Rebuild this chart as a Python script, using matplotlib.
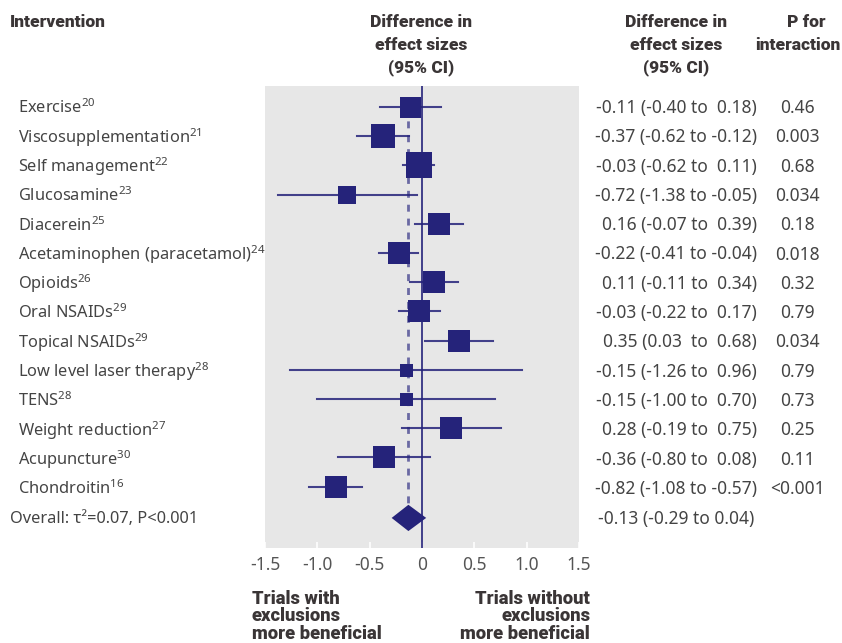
import matplotlib
matplotlib.use("Agg")
import matplotlib.pyplot as plt
import numpy as np

# Data
labels = ["Exercise", "Viscosupplementation", "Self management", "Glucosamine",
          "Diacerein", "Acetaminophen (paracetamol)", "Opioids", "Oral NSAIDs",
          "Topical NSAIDs", "Low level laser therapy", "TENS", "Weight reduction",
          "Acupuncture", "Chondroitin"]
refs = ["20", "21", "22", "23", "25", "24", "26", "29", "29", "28", "28", "27", "30", "16"]
est = [-0.11, -0.37, -0.03, -0.72, 0.16, -0.22, 0.11, -0.03, 0.35, -0.15, -0.15, 0.28, -0.36, -0.82]
lo = [-0.40, -0.62, -0.18, -1.38, -0.07, -0.41, -0.11, -0.22, 0.03, -1.26, -1.00, -0.19, -0.80, -1.08]
hi = [0.18, -0.12, 0.11, -0.05, 0.39, -0.04, 0.34, 0.17, 0.68, 0.96, 0.70, 0.75, 0.08, -0.57]
weight = [21, 24, 26, 18, 23, 22, 23, 23, 23, 13, 13, 22, 23, 23]  # box side
ci_text = ["-0.11 (-0.40 to  0.18)", "-0.37 (-0.62 to -0.12)", "-0.03 (-0.62 to  0.11)",
           "-0.72 (-1.38 to -0.05)", "0.16 (-0.07 to  0.39)", "-0.22 (-0.41 to -0.04)",
           "0.11 (-0.11 to  0.34)", "-0.03 (-0.22 to  0.17)", "0.35 (0.03  to  0.68)",
           "-0.15 (-1.26 to  0.96)", "-0.15 (-1.00 to  0.70)", "0.28 (-0.19 to  0.75)",
           "-0.36 (-0.80 to  0.08)", "-0.82 (-1.08 to -0.57)"]
p_text = ["0.46", "0.003", "0.68", "0.034", "0.18", "0.018", "0.32", "0.79",
          "0.034", "0.79", "0.73", "0.25", "0.11", "<0.001"]
overall_est, overall_lo, overall_hi = -0.13, -0.29, 0.04
overall_label = "Overall: τ²=0.07, P<0.001"
overall_ci_text = "-0.13 (-0.29 to 0.04)"
ticks = [-1.5, -1.0, -0.5, 0, 0.5, 1.0, 1.5]
tick_labels = ["-1.5", "-1.0", "-0.5", "0", "0.5", "1.0", "1.5"]

navy = "#25237a"
txt = "#444444"
head = "#3a3536"
plt.rcParams['font.family'] = ['Noto Sans', 'DejaVu Sans']
plt.rcParams['mathtext.fontset'] = 'custom'
plt.rcParams['mathtext.rm'] = 'Noto Sans'
bold_font = ['Roboto', 'DejaVu Sans']

W, H = 842, 643
fig = plt.figure(figsize=(W / 100, H / 100), dpi=100)
ax = fig.add_axes([265 / W, 1 - 548 / H, 314 / W, 462 / H])
ax.set_facecolor("#e7e7e7")
for s in ax.spines.values():
    s.set_visible(False)

n = len(labels)
y = np.arange(n)
y_over = n + 0.07

ax.axvline(0, color=navy, lw=1.2, zorder=2)
ax.plot([overall_est, overall_est], [0, y_over - 0.45], color="#6a69a3", lw=2,
        dashes=(2.5, 2.5), zorder=2)
for i in range(n):
    ax.plot([lo[i], hi[i]], [y[i], y[i]], color=navy, lw=1.5, alpha=0.85, zorder=3)
    ax.plot(est[i], y[i], marker="s", ms=weight[i] * 0.72, color=navy, mew=0, zorder=4)
ax.fill([overall_lo, overall_est, overall_hi, overall_est],
        [y_over, y_over - 0.45, y_over, y_over + 0.45], color=navy, lw=0, zorder=4)

ax.set_xlim(-1.5, 1.5)
ax.set_ylim(15.1, -0.72)
ax.set_yticks([])
ax.set_xticks(ticks)
ax.set_xticklabels(tick_labels)
ax.tick_params(axis="x", direction="in", length=4, color="white", width=1.2,
               labelsize=12.5, labelcolor="#555555", pad=6)


def ftext(x, yy, s, **kw):
    fig.text(x / W, 1 - yy / H, s, **kw)


row_px = [108 + 29.3 * i for i in range(n)]
fs = 11.8
fs_num = 12.5
for i in range(n):
    ftext(18, row_px[i], labels[i] + r"$^{\mathrm{" + refs[i] + "}}$", fontsize=fs,
          color=txt, va="center", ha="left")
    ftext(757, row_px[i], ci_text[i], fontsize=fs_num, color=txt, va="center", ha="right")
    ftext(797, row_px[i], p_text[i], fontsize=fs_num, color=txt, va="center", ha="center")
ftext(10, 519, overall_label, fontsize=fs, color=txt, va="center", ha="left")
ftext(754, 519, overall_ci_text, fontsize=fs_num, color=txt, va="center", ha="right")

hk = dict(fontsize=12.5, fontweight="black", color=head, family=bold_font, va="center")
ftext(10, 22, "Intervention", ha="left", **hk)
for j, s in enumerate(["Difference in", "effect sizes", "(95% CI)"]):
    ftext(421, 22 + 23 * j, s, ha="center", **hk)
    ftext(676, 22 + 23 * j, s, ha="center", **hk)
ftext(806, 22, "P for", ha="center", **hk)
ftext(841, 45, "interaction", ha="right", **hk)

bk = dict(hk, fontsize=13.2)
for j, s in enumerate(["Trials with", "exclusions", "more beneficial"]):
    ftext(252, 599 + 17.3 * j, s, ha="left", **bk)
for j, s in enumerate(["Trials without", "exclusions", "more beneficial"]):
    ftext(590, 599 + 17.3 * j, s, ha="right", **bk)

fig.savefig("out.png", dpi=100, facecolor="white")
